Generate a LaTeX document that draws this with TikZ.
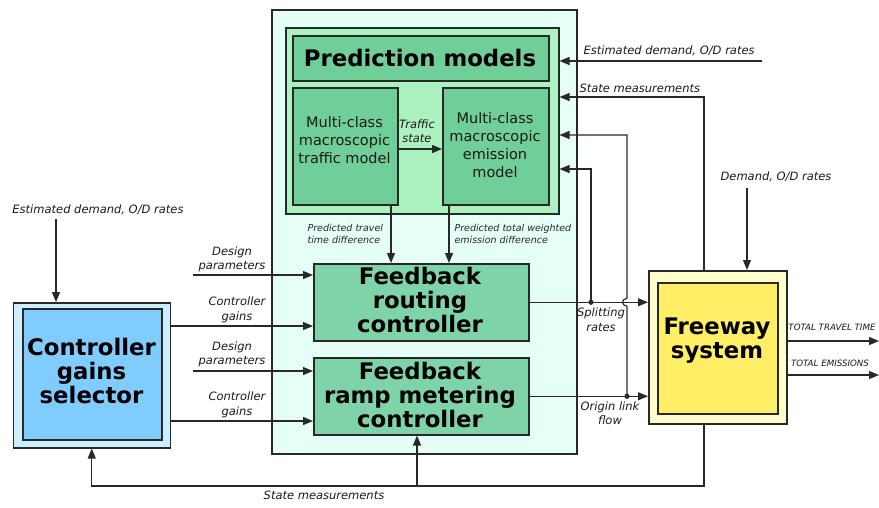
\documentclass[tikz,border=0pt]{standalone}
\usepackage{fontspec}
\setmainfont{DejaVu Sans}
\usetikzlibrary{arrows.meta}
\definecolor{mintbg}{RGB}{230,255,246}
\definecolor{predbg}{RGB}{172,242,192}
\definecolor{modelbg}{RGB}{112,206,152}
\definecolor{ctrlbg}{RGB}{126,212,168}
\definecolor{selout}{RGB}{204,238,255}
\definecolor{selin}{RGB}{128,204,255}
\definecolor{fwout}{RGB}{255,255,204}
\definecolor{fwin}{RGB}{255,238,102}
\definecolor{ink}{RGB}{40,40,40}
\tikzset{
  box/.style={draw=ink, line width=1.5pt, inner sep=0pt, anchor=north west},
  conn/.style={draw=ink, line width=1.2pt, -{Triangle[length=10pt,width=8pt]}},
  plain/.style={draw=ink, line width=1.2pt},
  bigtxt/.style={font=\bfseries\fontsize{22.8}{24}\selectfont, align=center, text=black},
  modeltxt/.style={font=\fontsize{14.5}{18}\selectfont, align=center, text=black!90},
  lbl/.style={font=\itshape\fontsize{11.5}{14.5}\selectfont, align=center, text=black!90},
  smalllbl/.style={font=\itshape\fontsize{9.5}{12}\selectfont, align=left, text=black!85},
  caplbl/.style={font=\itshape\fontsize{8.7}{10}\selectfont, text=black!90},
  dot/.style={fill=ink}
}
\begin{document}
\begin{tikzpicture}[x=1pt,y=-1pt]
\useasboundingbox (0,0) rectangle (879,507);

% boxes
\node[box, fill=mintbg, minimum width=305pt, minimum height=444pt] (outer) at (271,9) {};
\node[box, fill=predbg, minimum width=273pt, minimum height=186pt] (pm) at (285,27) {};
\node[box, fill=modelbg, minimum width=256pt, minimum height=45pt] (pt) at (292,35) {};
\node[bigtxt] at (420,58) {Prediction models};
\node[box, fill=modelbg, minimum width=105pt, minimum height=117pt] (tm) at (292,87) {};
\node[modeltxt] at (344.5,140) {Multi-class\\macroscopic\\traffic model};
\node[box, fill=modelbg, minimum width=106pt, minimum height=117pt] (em) at (442,87) {};
\node[modeltxt] at (495,145) {Multi-class\\macroscopic\\emission\\model};
\node[box, fill=ctrlbg, minimum width=215pt, minimum height=77pt] (route) at (313,263) {};
\node[bigtxt] at (420,300) {Feedback\\routing\\controller};
\node[box, fill=ctrlbg, minimum width=215pt, minimum height=77pt] (ramp) at (313,357) {};
\node[bigtxt] at (420,395) {Feedback\\ramp metering\\controller};
\node[box, fill=selout, minimum width=157pt, minimum height=145pt] (sel) at (12.5,302) {};
\node[box, fill=selin, minimum width=139pt, minimum height=131pt] (selinner) at (22,308) {};
\node[bigtxt] at (91.5,371) {Controller\\gains\\selector};
\node[box, fill=fwout, minimum width=138pt, minimum height=153pt] (fw) at (648,270) {};
\node[box, fill=fwin, minimum width=120pt, minimum height=131pt] (fwinner) at (657,282) {};
\node[bigtxt] at (717,341) {Freeway\\system};

% coordinates
\coordinate (ts) at (397,149);
\coordinate (ptd) at (391,204);
\coordinate (ped) at (449,204);
\coordinate (e1) at (762,61);
\coordinate (sm) at (704,97);
\coordinate (j1) at (627,135);
\coordinate (j2) at (591,169);
\coordinate (dm) at (747,188);
\coordinate (o1) at (879,341);
\coordinate (o2) at (879,375);
\coordinate (ed) at (56,219);
\coordinate (dp1) at (193,275);
\coordinate (cg1) at (170,326);
\coordinate (dp2) at (193,371);
\coordinate (cg2) at (170,421);
\coordinate (fb) at (704,486);
\coordinate (fbr) at (417,486);
\coordinate (hop) at (route.east -| j1);

% connectors inside prediction
\draw[conn] (ts) -- (em.west |- ts);
\draw[conn] (ptd) -- (route.north -| ptd);
\draw[conn] (ped) -- (route.north -| ped);

% right-side inputs
\draw[conn] (e1) -- (pm.east |- e1);
\draw[conn] (fw.north -| sm) -- (sm) -- (pm.east |- sm);
\draw[conn] (ramp.east -| j1) -- ([yshift=-4pt]hop) .. controls +(-6,-1) and +(-6,1) .. ([yshift=4pt]hop) -- (j1) -- (pm.east |- j1);
\draw[conn] (route.east -| j2) -- (j2) -- (pm.east |- j2);

% controller outputs
\draw[conn] (route.east) -- (fw.west |- route.east);
\draw[conn] (ramp.east) -- (fw.west |- ramp.east);
\fill[dot] (route.east -| j2) circle (2.6pt);
\fill[dot] (ramp.east -| j1) circle (2.6pt);

% freeway
\draw[conn] (dm) -- (fw.north -| dm);
\draw[conn] (fw.east |- o1) -- (o1);
\draw[conn] (fw.east |- o2) -- (o2);

% left side
\draw[conn] (ed) -- (sel.north -| ed);
\draw[conn] (dp1) -- (route.west |- dp1);
\draw[conn] (sel.east |- cg1) -- (route.west |- cg1);
\draw[conn] (dp2) -- (ramp.west |- dp2);
\draw[conn] (sel.east |- cg2) -- (ramp.west |- cg2);

% feedback
\draw[conn] (fw.south -| fb) -- (fb) -- (fb -| sel.south) -- (sel.south);
\draw[conn] (fbr) -- (ramp.south -| fbr);

% labels
\node[lbl] at (417,131) {Traffic\\state};
\node[smalllbl, anchor=west] at (304,234) {Predicted travel\\time difference};
\node[smalllbl, anchor=west] at (451,234) {Predicted total weighted\\emission difference};
\node[lbl, anchor=west] at (580,51) {Estimated demand, O/D rates};
\node[lbl, anchor=west] at (576,88) {State measurements};
\node[lbl] at (776,177) {Demand, O/D rates};
\node[lbl] at (98,210) {Estimated demand, O/D rates};
\node[lbl] at (232,259.5) {Design\\parameters};
\node[lbl] at (237,310) {Controller\\gains};
\node[lbl] at (232,354.5) {Design\\parameters};
\node[lbl] at (237,405) {Controller\\gains};
\node[lbl] at (601,319.5) {Splitting\\rates};
\node[lbl] at (610,413) {Origin link\\flow};
\node[caplbl] at (832,327) {TOTAL TRAVEL TIME};
\node[caplbl] at (830,363) {TOTAL EMISSIONS};
\node[lbl] at (324,495) {State measurements};
\end{tikzpicture}
\end{document}
